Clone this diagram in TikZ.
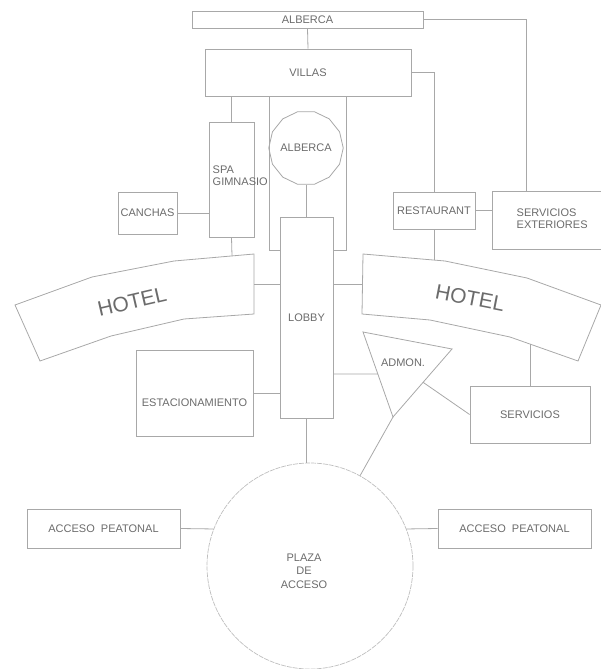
\documentclass[tikz,border=0pt]{standalone}
\usepackage{fontspec}
\setmainfont{Liberation Sans}
\usetikzlibrary{calc, positioning, shapes.geometric}
\definecolor{linegray}{gray}{0.66}
\definecolor{textgray}{gray}{0.42}
\tikzset{
	plan/.style={x=1pt,y=-1pt},
	room/.style={
		rectangle,
		draw=linegray, line width=0.8pt,
		inner sep=0pt,
		text=textgray,
		font=\fontsize{11}{13}\selectfont,
		align=center
	},
	roomtext/.style={text=textgray, inner sep=0pt, font=\fontsize{11}{12.5}\selectfont},
	hoteltext/.style={text=textgray, inner sep=0pt, font=\fontsize{21}{24}\selectfont},
	link/.style={draw=linegray, line width=0.8pt},
	wing/.style={draw=linegray, line width=0.8pt, line join=miter},
	poolshape/.style={regular polygon, regular polygon sides=14, draw=linegray, line width=0.8pt,
		inner sep=0pt, minimum size=62pt, text=textgray, font=\fontsize{11}{13}\selectfont},
	plazashape/.style={circle, draw=linegray!75, line width=0.7pt, dash pattern=on 5pt off 1pt,
		inner sep=0pt, minimum size=206pt, text=textgray, align=center, font=\fontsize{11}{13.5}\selectfont}
}

\begin{document}
\begin{tikzpicture}[plan]
	\useasboundingbox (0,0) rectangle (601,669);

	% rooms
	\node[room, minimum width=231, minimum height=17]	(alberca)	at (307.5,19.5)	{ALBERCA};
	\node[room, minimum width=206, minimum height=47]	(villas)	at (308,72.5)	{VILLAS};
	\node[room, minimum width=45, minimum height=115]	(spa)		at (231.5,179.5)	{};
	\node[roomtext, anchor=west, align=left]		(spa-txt)	at (212.5,175.5)	{SPA\\GIMNASIO};
	\node[poolshape]					(pool)		at (306,148)	{ALBERCA};
	\node[room, minimum width=53, minimum height=201]	(lobby)		at (306.5,317.5)	{LOBBY};
	\node[room, minimum width=59, minimum height=42]	(canchas)	at (147.5,213)	{CANCHAS};
	\node[room, minimum width=82, minimum height=37]	(restaurant)	at (434,210.5)	{RESTAURANT};
	\node[room, minimum width=111, minimum height=58]	(servext)	at (547.5,220)	{};
	\node[roomtext, anchor=west, align=left]		(servext-txt)	at (516.5,218.5)	{SERVICIOS\\EXTERIORES};
	\node[room, minimum width=117, minimum height=86]	(estac)		at (194.5,393)	{};
	\node[roomtext]						(estac-txt)	at (194.5,403)	{ESTACIONAMIENTO};
	\node[room, minimum width=120, minimum height=57]	(servicios)	at (530,414.5)	{SERVICIOS};
	\node[plazashape]					(plaza)		at (310,566)	{};
	\node[roomtext, align=center, font=\fontsize{11}{13.5}\selectfont]	(plaza-txt)	at (304,571)	{PLAZA\\DE\\ACCESO};
	\node[room, minimum width=153, minimum height=39]	(peatonL)	at (103.5,528.5)	{ACCESO\ \ PEATONAL};
	\node[room, minimum width=153, minimum height=39]	(peatonR)	at (514.5,528.5)	{ACCESO\ \ PEATONAL};

	% hotel wings
	\draw[wing] (15,305) -- (92,277) -- (174,261) -- (254,254) -- (254,314) -- (184,319) -- (111,336) -- (40,361) -- cycle;
	\draw[wing] (363,254) -- (445,261) -- (527,278) -- (601,305) -- (578,361) -- (510,337) -- (430,320) -- (362,314) -- cycle;
	\node[hoteltext, rotate=13]	(hotelL)	at (132,302)	{HOTEL};
	\node[hoteltext, rotate=-11]	(hotelR)	at (470,298)	{HOTEL};

	% admon
	\coordinate (admA) at (363,332);
	\coordinate (admB) at (452,349);
	\coordinate (admC) at (393,417);
	\draw[wing] (admA) -- (admB) -- (admC) -- cycle;
	\node[roomtext] (admon) at (403,363) {ADMON.};

	\coordinate (hLtop)  at (232,256);
	\coordinate (hLside) at (254,284);
	\coordinate (hRside) at (362,284);
	\coordinate (hRtop)  at (434,260);
	\coordinate (hRbot)  at (530,344);
	\coordinate (uL) at (269,250);
	\coordinate (uR) at (346,250);

	% connectors
	\draw[link] (alberca.south) -- (villas.north);
	\draw[link] (alberca.east) -| ([xshift=35pt]servext.north west);
	\draw[link] (villas.east) -| (restaurant.north);
	\draw[link] (spa.north) -- (spa.north |- villas.south);
	\draw[link] (uL |- villas.south) -- (uL) -- (uL -| lobby.west);
	\draw[link] (uR |- villas.south) -- (uR) -- (uR -| lobby.east);
	\draw[link] (pool.south) -- (pool.south |- lobby.north);
	\draw[link] (canchas.east) -- (canchas.east -| spa.west);
	\draw[link] (restaurant.east) -- (restaurant.east -| servext.west);
	\draw[link] (spa.south) -- (hLtop);
	\draw[link] (hLside) -- (hLside -| lobby.west);
	\draw[link] (hRside -| lobby.east) -- (hRside);
	\draw[link] (restaurant.south) -- (hRtop);
	\draw[link] (estac.east) -- (estac.east -| lobby.west);
	\draw[link] (lobby.east |- 0,374) -- ($(admA)!0.494!(admC)$);
	\draw[link] ($(admB)!0.49!(admC)$) -- (servicios.west);
	\draw[link] (hRbot) -- (servicios.north);
	\draw[link] (admC) -- (plaza.61);
	\draw[link] (lobby.south) -- (lobby.south |- plaza.north);
	\draw[link] (peatonL.east) -- (plaza.159);
	\draw[link] (plaza.21) -- (peatonR.west);
\end{tikzpicture}
\end{document}
